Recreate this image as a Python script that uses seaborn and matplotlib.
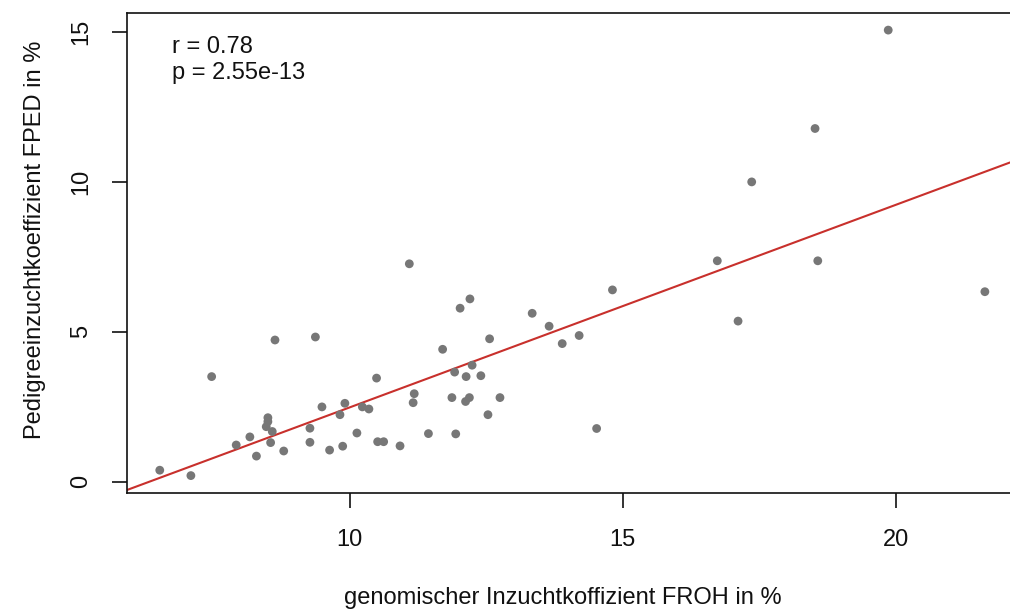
import matplotlib
matplotlib.use("Agg")
import matplotlib.pyplot as plt
import seaborn as sns
import numpy as np
import pandas as pd

froh = [6.52, 7.09, 7.47, 7.92, 8.17, 8.29, 8.63, 8.50, 8.50, 8.47, 8.58, 8.55, 8.79,
        9.37, 9.27, 9.27, 9.49, 9.63, 9.82, 9.87, 9.91, 10.13, 10.23, 10.35, 10.49,
        10.51, 10.62, 10.92, 11.18, 11.16,
        11.09, 12.20, 12.02, 13.34, 13.65, 14.20, 13.89, 14.81, 12.56, 11.70, 11.92,
        12.24, 12.13, 12.40, 11.87, 12.19, 12.12, 12.75, 12.53, 11.44, 11.94, 14.52,
        19.86, 18.52, 17.36, 16.73, 18.57, 17.11, 21.63]
fped = [0.39, 0.21, 3.51, 1.23, 1.50, 0.86, 4.73, 2.14, 2.01, 1.84, 1.68, 1.31, 1.03,
        4.83, 1.79, 1.32, 2.50, 1.06, 2.24, 1.19, 2.62, 1.63, 2.50, 2.43, 3.46,
        1.34, 1.34, 1.20, 2.94, 2.64,
        7.27, 6.10, 5.79, 5.62, 5.19, 4.88, 4.61, 6.40, 4.77, 4.42, 3.66,
        3.89, 3.51, 3.54, 2.81, 2.81, 2.68, 2.81, 2.24, 1.61, 1.60, 1.78,
        15.06, 11.78, 10.00, 7.37, 7.37, 5.36, 6.34]

x_ticks = [10, 15, 20]
y_ticks = [0, 5, 10, 15]
stats_text = ["r = 0.78", "p = 2.55e-13"]
x_label = "genomischer Inzuchtkoffizient FROH in %"
y_label = "Pedigreeinzuchtkoeffizient FPED in %"

df = pd.DataFrame({"FROH": froh, "FPED": fped})

sns.set_theme(style="white")
plt.rcParams["font.family"] = ["Liberation Sans", "DejaVu Sans"]

FS = 17
W, H = 1010, 610
fig = plt.figure(figsize=(W / 100, H / 100), dpi=100)
ax = fig.add_axes([127 / W, (H - 493) / H, (W - 127) / W, (493 - 13) / H])
ax.set_xlim(5.92, 22.09)
ax.set_ylim(-0.37, 15.63)

sns.regplot(data=df, x="FROH", y="FPED", ax=ax, ci=None, truncate=False,
            scatter_kws=dict(s=40, color="#777777", edgecolor="none", alpha=1, zorder=3),
            line_kws=dict(color="#c8302c", lw=1.5, zorder=2))

ax.set_xlim(5.92, 22.09)
ax.set_ylim(-0.37, 15.63)
ax.set_xticks(x_ticks)
ax.set_yticks(y_ticks)
ax.set_xlabel(x_label, fontsize=FS, color="#111111")
ax.set_ylabel(y_label, fontsize=FS, color="#111111")
ax.xaxis.set_label_coords(0.493, -0.196)
ax.yaxis.set_label_coords(-0.092, 0.527)
ax.tick_params(axis="both", which="both", direction="out", length=11, width=1.2,
               colors="#111111", labelsize=FS, bottom=True, left=True)
ax.tick_params(axis="x", pad=15)
ax.tick_params(axis="y", pad=14)
for lab in ax.get_yticklabels():
    lab.set_rotation(90)
    lab.set_va("center")

for side in ["left", "bottom", "top"]:
    ax.spines[side].set_visible(True)
    ax.spines[side].set_color("#111111")
    ax.spines[side].set_linewidth(1.2)
ax.spines["right"].set_visible(False)
ax.grid(False)

ax.text(0.051, 0.93, stats_text[0], transform=ax.transAxes, fontsize=FS,
        va="center", ha="left", color="#111111")
ax.text(0.051, 0.875, stats_text[1], transform=ax.transAxes, fontsize=FS,
        va="center", ha="left", color="#111111")

fig.savefig("out.png", dpi=100)
